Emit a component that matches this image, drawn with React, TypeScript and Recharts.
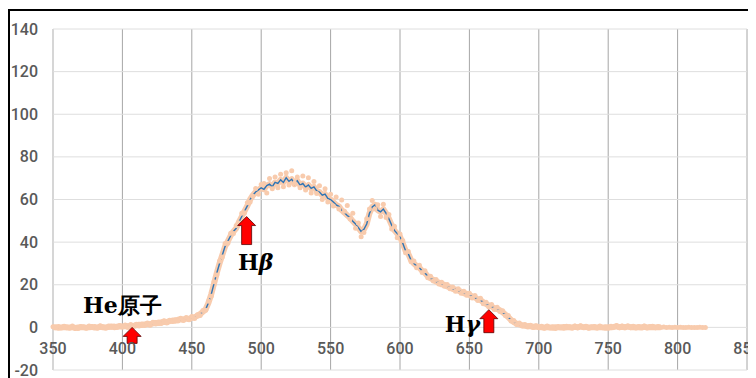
import React from 'react';
import {
	ComposedChart,
	Line,
	XAxis,
	YAxis,
	CartesianGrid,
	ReferenceLine,
	ReferenceDot,
} from 'recharts';

// wavelength grid (nm)
const startNm = 350;
const stepNm = 2;

// smoothed spectrum (blue), 350 .. 788 nm
const smoothValues = [
	0.0, 0.1, -0.2, 0.0, 0.2, -0.1, 0.0, 0.1, -0.3, -0.1, 0.1, 0.0, -0.2, 0.1, 0.2, -0.1, 0.0, 0.3, 0.1, -0.1, 0.2, 0.4, 0.1, 0.3, 0.5, 0.4,
	0.6, 0.5, 0.8, 0.7, 1.0, 1.2, 1.1, 1.4, 1.6, 1.5, 1.9, 2.1, 2.0, 2.4, 2.6, 2.5, 2.9, 3.2, 3.1, 3.6,
	3.8, 3.7, 4.1, 4.0, 4.5, 4.8, 5.4, 6.2, 7.3, 8.5, 11.5, 15.5, 20.5, 25.5, 30, 34, 38, 40.5, 43, 45,
	46.5, 49.5, 52, 54.5, 57, 60, 62, 63.5, 64.5, 65.5,
	64.8, 66.5, 67.2, 66.0, 68.0, 67.5, 69.2, 68.0, 70.2, 68.5, 69.5, 67.2, 68.8, 66.8, 67.5, 65.8, 66.8, 65.2, 65.9, 64.0,
	63.5, 62.0, 62.5, 60.5, 60.0, 58.8, 57.5, 56.8, 55.0, 53.8, 52.5, 51.5, 49.8, 48.5, 46.8, 45.0, 46.0, 48.5, 53.5, 56.5,
	57.5, 55.0, 54.2, 55.5, 53.5, 51.0, 48.0, 45.5, 44.0, 42.5,
	39.5, 36.0, 34.5, 31.5, 30.0, 28.8, 28.0, 26.5, 25.5, 24.0, 23.0, 22.4, 21.5, 21.0, 20.2, 20.0, 19.2, 18.8, 18.0, 17.8,
	17.2, 16.8, 16.0, 15.8, 15.2, 14.5, 14.0, 13.2, 12.8, 11.8, 11.0, 10.2, 9.8, 9.0, 8.6, 8.0, 7.0, 6.0, 4.8, 3.5,
	2.5, 1.8, 1.4, 1.0, 0.8, 0.6, 0.5, 0.3, 0.4, 0.2,
	0.1, -0.1, 0.2, 0.0, -0.2, 0.1, 0.0, -0.1, 0.2, 0.0, 0.1, -0.1, 0.3, 0.0, 0.4, 0.1, 0.2, -0.1, 0.0, 0.1,
	-0.1, 0.2, 0.0, -0.2, 0.1, 0.0, 0.2, 0.5, 0.1, 0.3, 0.0, 0.4, 0.1, 0.2, 0.0, 0.1, -0.1, 0.3, 0.0, 0.1,
	0.2, 0.0, 0.1, 0.0,
];

// flat tail after the smoothed line ends, 788 .. 820 nm
const tailStartNm = 788;
const tailValues = [0, 0, 0, 0, 0, 0, 0, 0, 0, 0, 0, 0, 0, 0, 0, 0, 0];

// raw measurement points (orange), 350 .. 820 nm
const rawValues = [
	0.3, -0.2, 0.4, -0.3, 0.5, 0.2, -0.4, 0.6, 0.0, -0.5, 0.4, 0.3, -0.3, 0.6, -0.1, 0.4, -0.4, 0.8, 0.2, -0.3, 0.6, 0.1, 0.7, -0.1, 0.9, 0.2,
	1.1, 0.0, 1.3, 0.4, 1.5, 0.7, 1.6, 0.9, 2.1, 1.0, 2.4, 1.6, 2.5, 1.8, 3.1, 2.0, 3.4, 2.7, 3.6, 3.0,
	4.3, 3.2, 4.6, 3.6, 5.1, 4.2, 5.9, 5.6, 7.9, 8.0, 12.3, 14.6, 21.4, 24.6, 31.2, 33.0, 39.4, 39.5, 44.2, 44.0,
	47.8, 49.0, 53.5, 53.8, 58.5, 58.8, 61.5, 65.2, 62.5, 67.0,
	67.5, 63.0, 69.8, 65.0, 70.5, 65.5, 71.8, 66.0, 72.5, 66.8, 73.5, 67.8, 70.5, 65.5, 71.0, 64.5, 70.2, 63.0, 68.5, 62.8,
	66.5, 60.0, 65.0, 58.8, 62.5, 57.0, 61.2, 55.5, 59.8, 54.5, 57.2, 50.8, 53.5, 46.5, 49.0, 42.5, 44.5, 51.0, 55.5, 59.5,
	55.5, 57.5, 52.0, 57.8, 51.5, 53.0, 46.2, 47.5, 42.0, 43.8,
	40.8, 35.0, 35.6, 30.8, 31.2, 28.0, 29.1, 25.8, 26.6, 23.3, 24.0, 21.8, 22.5, 20.3, 21.2, 19.3, 20.1, 18.1, 19.0, 17.0,
	18.1, 16.0, 17.0, 15.1, 16.0, 13.8, 14.9, 12.6, 13.7, 11.1, 11.8, 9.6, 10.7, 8.4, 9.5, 7.4, 7.8, 5.4, 5.6, 3.0,
	3.2, 1.3, 2.0, 0.6, 1.3, 0.2, 1.0, -0.1, 0.8, -0.2,
	0.5, -0.4, 0.6, -0.3, 0.3, -0.5, 0.4, 0.2, -0.4, 0.5, 0.3, -0.3, 0.7, -0.2, 0.8, -0.1, 0.5, -0.4, 0.3, 0.4,
	-0.3, 0.6, -0.2, 0.3, -0.4, 0.5, 0.1, 0.9, -0.2, 0.6, 0.3, 0.7, -0.2, 0.5, -0.3, 0.4, 0.2, 0.6, -0.3, 0.4,
	0.5, -0.2, 0.4, 0.0, 0.2, -0.1, 0.1, 0.0, 0.1, 0.0, 0.1, 0.0, 0.0, 0.1, 0.0, 0.0, 0.0, 0.1, 0.0, 0.0,
];

const xTicks = [350, 400, 450, 500, 550, 600, 650, 700, 750, 800, 850];
const yTicks = [-20, 0, 20, 40, 60, 80, 100, 120, 140];

// annotations: arrow tip (nm, value) and label position
const arrows = [
	{ x: 407, y: 0, len: 16 },
	{ x: 489.5, y: 52, len: 28 },
	{ x: 664, y: 8.3, len: 23 },
];
const labels = [
	{ x: 400, y: 10.6, text: 'He原子', greek: '' },
	{ x: 496, y: 30.5, text: 'H', greek: 'β' },
	{ x: 645, y: 1.8, text: 'H', greek: 'γ' },
];

const data = rawValues.map((raw, i) => {
	const nm = startNm + i * stepNm;
	const row: { nm: number; raw: number; smooth?: number; tail?: number } = { nm, raw };
	if (i < smoothValues.length) row.smooth = smoothValues[i];
	const ti = (nm - tailStartNm) / stepNm;
	if (ti >= 0 && ti < tailValues.length) row.tail = tailValues[ti];
	return row;
});

const tickFont = 'Roboto, "Noto Sans", sans-serif';
const rawColor = '#f8cbad';

const XTick = (props: any) => {
	const { x, y, payload } = props;
	return (
		<text x={x} y={y - 16} textAnchor="middle" fill="#595959" fontSize={16} fontWeight={500} fontFamily={tickFont}>
			{payload.value}
		</text>
	);
};

const YTick = (props: any) => {
	const { x, y, payload } = props;
	return (
		<text x={x} y={y + 5.5} textAnchor="end" fill="#595959" fontSize={16} fontWeight={500} fontFamily={tickFont}>
			{payload.value}
		</text>
	);
};

const Arrow = (len: number) => (props: any) => {
	const { cx, cy } = props;
	const hw = 9;
	const bw = 5;
	const hh = 9;
	const pts = [
		[cx, cy],
		[cx + hw, cy + hh],
		[cx + bw, cy + hh],
		[cx + bw, cy + len],
		[cx - bw, cy + len],
		[cx - bw, cy + hh],
		[cx - hw, cy + hh],
	]
		.map((p) => p.join(','))
		.join(' ');
	return <polygon points={pts} fill="#ff0000" stroke="#5a0000" strokeWidth={0.8} />;
};

const Label = (text: string, greek: string) => (props: any) => {
	const { cx, cy } = props;
	return (
		<text
			x={cx}
			y={cy + 8}
			textAnchor="middle"
			fill="#000"
			fontSize={22}
			fontWeight="bold"
			fontFamily='"DejaVu Serif", "Liberation Serif", serif'>
			{text}
			{greek && <tspan fontStyle="italic">{greek}</tspan>}
		</text>
	);
};

export default function App() {
	return (
		<div
			style={{
				position: 'relative',
				top: 1,
				width: 760,
				height: 380,
				borderTop: '2px solid #000',
				borderLeft: '2px solid #000',
				background: '#fff',
				overflow: 'hidden',
			}}>
			<ComposedChart
				width={760}
				height={389}
				data={data}
				margin={{ top: 18, right: 23, left: 0, bottom: 0 }}>
				<CartesianGrid horizontal={false} stroke="#a6a6a6" strokeWidth={1} />
				<CartesianGrid vertical={false} stroke="#dedede" strokeWidth={1} />
				<ReferenceLine x={350} stroke="#d9d9d9" />
				<XAxis
					dataKey="nm"
					type="number"
					domain={[350, 850]}
					ticks={xTicks}
					axisLine={false}
					tickLine={false}
					tickSize={0}
					tickMargin={0}
					height={30}
					interval={0}
					tick={<XTick />}
				/>
				<YAxis
					type="number"
					domain={[-20, 140]}
					ticks={yTicks}
					axisLine={false}
					tickLine={false}
					tickSize={0}
					tickMargin={15}
					width={43}
					interval={0}
					tick={<YTick />}
				/>
				{/* soft band under the raw scatter points */}
				<Line
					dataKey="smooth"
					stroke={rawColor}
					strokeWidth={6}
					strokeLinejoin="round"
					dot={false}
					isAnimationActive={false}
				/>
				<Line
					dataKey="raw"
					stroke="none"
					dot={{ r: 2.5, fill: rawColor, stroke: 'none' }}
					isAnimationActive={false}
				/>
				<Line
					dataKey="tail"
					stroke="#7f8c99"
					strokeWidth={1.5}
					dot={false}
					isAnimationActive={false}
				/>
				<Line
					dataKey="smooth"
					stroke="#2e75b6"
					strokeWidth={1.4}
					dot={false}
					isAnimationActive={false}
				/>
				{arrows.map((a, i) => (
					<ReferenceDot key={`a${i}`} x={a.x} y={a.y} shape={Arrow(a.len)} />
				))}
				{labels.map((l, i) => (
					<ReferenceDot key={`l${i}`} x={l.x} y={l.y} shape={Label(l.text, l.greek)} />
				))}
			</ComposedChart>
		</div>
	);
}
